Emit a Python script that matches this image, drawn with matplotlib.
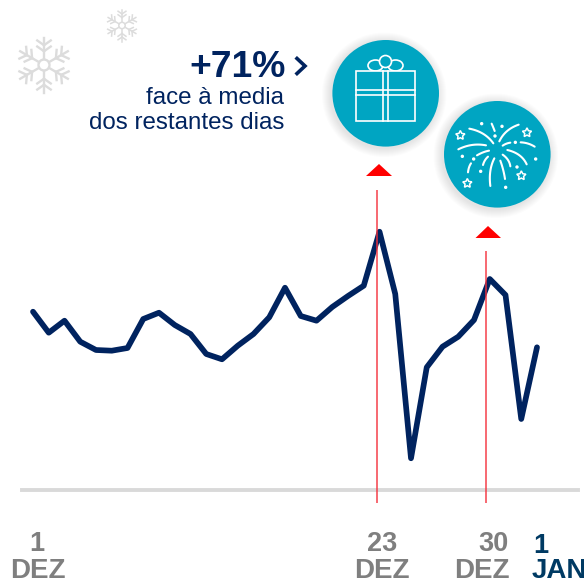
import numpy as np
import matplotlib
matplotlib.use('Agg')
import matplotlib.pyplot as plt
from matplotlib.patches import Circle, Ellipse, Polygon, Rectangle

plt.rcParams['font.family'] = ['Liberation Sans', 'DejaVu Sans']

# dias de 1 dez a 2 jan
days = list(range(1, 34))
values = [178.3, 157.3, 169.3, 148.3, 140, 139.3, 142, 171, 177.3, 165, 156, 136, 130.7,
          144.3, 156, 172.7, 202.3, 174, 169.3, 183, 194, 204.3, 258.3, 196, 31.7, 122.7,
          143.3, 153.3, 170, 211, 195, 71, 142.7]
marked_days = [22.84, 29.76]
marked_tops = [300, 239.5]

NAVY = '#00235f'
TEAL = '#00a5c2'
RED = '#ff0000'
GREY = '#7f7f7f'
SNOW = '#dcdcdc'

fig = plt.figure(figsize=(5.84, 5.84), dpi=100)

# grafico principal
ax = fig.add_axes([0, 0, 1, 1])
ax.set_xlim(1 - 33 / 15.75, 1 + 551 / 15.75)
ax.set_ylim(-94, 490)
ax.axis('off')
ax.axhline(0, xmin=22 / 584, xmax=578 / 584, color='#d9d9d9', lw=2.8, zorder=1)
ax.plot(days, values, color=NAVY, lw=4.1, solid_joinstyle='round', solid_capstyle='round', zorder=2)
for d, top in zip(marked_days, marked_tops):
    ax.plot([d, d], [-13, top], color='#f5303c', lw=1.2, alpha=0.85, zorder=3, solid_capstyle='butt')

# camada em pixeis para os enfeites
deco = fig.add_axes([0, 0, 1, 1])
deco.set_xlim(0, 584)
deco.set_ylim(584, 0)
deco.axis('off')
deco.patch.set_alpha(0)


def snowflake(cx, cy, r, lw):
    for a in np.deg2rad(np.arange(30, 390, 60) + 60):
        ux, uy = np.cos(a), np.sin(a)
        deco.plot([cx + 0.22 * r * ux, cx + r * ux], [cy + 0.22 * r * uy, cy + r * uy], color=SNOW, lw=lw)
        for f in (0.5, 0.72):
            for s in (-1, 1):
                b = a + s * np.deg2rad(55)
                bx, by = cx + f * r * ux, cy + f * r * uy
                deco.plot([bx, bx + 0.3 * r * np.cos(b)], [by, by + 0.3 * r * np.sin(b)], color=SNOW, lw=lw)
    deco.add_patch(Circle((cx, cy), 0.2 * r, fc='none', ec=SNOW, lw=lw))


snowflake(44, 65, 27.5, 1.7)
snowflake(122, 25.5, 16, 1.1)


def badge(cx, cy, r):
    for i in range(9):
        deco.add_patch(Circle((cx - 1.5, cy + 1.5), r + 9 - i, fc='#000000', ec='none', alpha=0.012))
    deco.add_patch(Circle((cx, cy), r, fc=TEAL, ec='none'))


badge(385.7, 93.3, 53.3)
badge(497.3, 154.3, 53.3)

# presente
W = 1.2
for cx in (375.5, 395.5):
    deco.add_patch(Ellipse((cx, 65.5), 15, 11, fc=TEAL, ec='white', lw=W))
deco.add_patch(Circle((385.5, 61.5), 6, fc=TEAL, ec='white', lw=W))
deco.add_patch(Rectangle((355.7, 70.7), 59.6, 50, fc=TEAL, ec='white', lw=W))
for x in (383, 388):
    deco.plot([x, x], [70.7, 120.7], color='white', lw=W)
for y in (90, 94.7):
    deco.plot([355.7, 415.3], [y, y], color='white', lw=W)

# fogo de artificio
arcs = [(448, 296, 495, 305, 520, 340), (415, 358, 455, 338, 498, 346), (538, 334, 555, 298, 596, 284),
        (515, 281, 519, 290, 524, 303), (548, 347, 558, 340, 571, 338), (602, 337, 625, 338, 644, 350),
        (471, 376, 490, 365, 507, 362), (562, 360, 605, 370, 620, 403), (444, 427, 446, 410, 453, 400),
        (489, 405, 493, 390, 504, 380), (511, 468, 505, 420, 523, 385), (555, 447, 551, 420, 541, 392),
        (571, 409, 568, 388, 548, 374)]
dots = [(485, 281), (546, 289), (525, 318), (586, 337), (427, 379), (461, 387), (482, 424), (591, 411),
        (647, 387), (557, 472)]
stars = [(421, 316), (621, 308), (604, 437), (442, 460)]


def zx(x):
    return 320 + x / 3


def zy(y):
    return 30 + y / 3


t = np.linspace(0, 1, 20)
for a in arcs:
    xs = (1 - t) ** 2 * a[0] + 2 * t * (1 - t) * a[2] + t ** 2 * a[4]
    ys = (1 - t) ** 2 * a[1] + 2 * t * (1 - t) * a[3] + t ** 2 * a[5]
    deco.plot(zx(xs), zy(ys), color='white', lw=1.5, solid_capstyle='round')
for x, y in dots:
    deco.add_patch(Circle((zx(x), zy(y)), 1.7, fc='white', ec='none'))
for x, y in stars:
    ang = np.deg2rad(-90 + 36 * np.arange(10))
    rad = np.where(np.arange(10) % 2 == 0, 4.8, 2.4)
    pts = np.c_[zx(x) + rad * np.cos(ang), zy(y) + rad * np.sin(ang)]
    deco.add_patch(Polygon(pts, closed=True, fc='none', ec='white', lw=1.1))

# triangulos
deco.add_patch(Polygon([(366, 176), (379, 164), (392, 176)], closed=True, fc=RED, ec='none'))
deco.add_patch(Polygon([(475.5, 238), (488, 226), (501, 238)], closed=True, fc=RED, ec='none'))

# textos
deco.text(286, 77, '+71%', ha='right', va='baseline', fontsize=26.8, fontweight='bold', color=NAVY)
deco.plot([297, 305, 297], [58.5, 66, 73.5], color=NAVY, lw=2.6, solid_joinstyle='miter')
deco.text(284, 104, 'face à media', ha='right', va='baseline', fontsize=17.4, color=NAVY)
deco.text(284, 129, 'dos restantes dias', ha='right', va='baseline', fontsize=17.4, color=NAVY)

for x, n in [(37, '1'), (382, '23'), (493, '30')]:
    deco.text(x, 551, n, ha='center', va='baseline', fontsize=19.5, fontweight='bold', color=GREY)
for x in (38, 382, 482):
    deco.text(x, 578, 'DEZ', ha='center', va='baseline', fontsize=20, fontweight='bold', color=GREY)
deco.text(533, 553, '1', ha='left', va='baseline', fontsize=19.5, fontweight='bold', color='#003a63')
deco.text(532, 578, 'JAN', ha='left', va='baseline', fontsize=20, fontweight='bold', color='#003a63')

fig.savefig('out.png', dpi=100, facecolor='white')
